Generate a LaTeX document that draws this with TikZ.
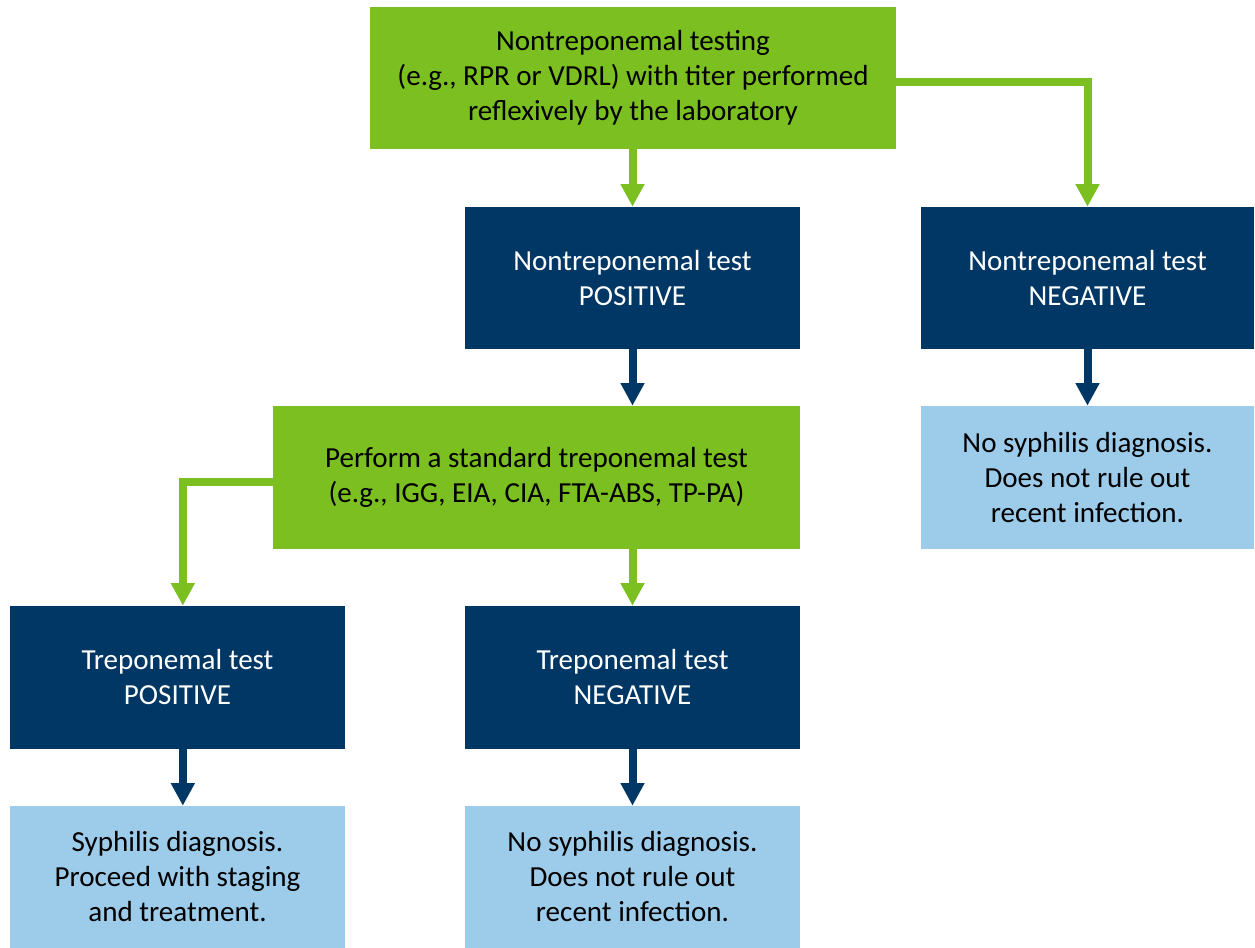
\documentclass[tikz,border=0pt]{standalone}
\usepackage{fontspec}
\setmainfont{Carlito}
\usetikzlibrary{arrows.meta}

\definecolor{testgreen}{HTML}{7BBF21}
\definecolor{navyblue}{HTML}{003764}
\definecolor{paleblue}{HTML}{9DCBEA}

\tikzset{
  box/.style={minimum width=335pt*0.75, minimum height=142pt*0.75, inner sep=0pt, align=center,
    font=\fontsize{21.8}{26.25}\selectfont},
  greenbox/.style={box, fill=testgreen, text=black},
  resultbox/.style={box, fill=navyblue, text=white},
  outcomebox/.style={box, fill=paleblue, text=black},
  flow/.style={line width=6pt, -{Triangle[length=17pt,width=17pt]}},
}

\begin{document}
\begin{tikzpicture}[x=0.75pt,y=-0.75pt]

\useasboundingbox (0,0) rectangle (1255,948);

% first test
\node[greenbox, minimum width=526pt*0.75] (nontrep) at (633,78)
  {Nontreponemal testing\\(e.g., RPR or VDRL) with titer performed\\reflexively by the laboratory};

% nontreponemal results
\node[resultbox] (ntpos) at (632.5,278) {Nontreponemal test\\POSITIVE};
\node[resultbox, minimum width=333pt*0.75] (ntneg) at (1087.5,278) {Nontreponemal test\\NEGATIVE};
\node[outcomebox, minimum width=333pt*0.75, minimum height=143pt*0.75] (nodxa) at (1087.5,477.5)
  {No syphilis diagnosis.\\Does not rule out\\recent infection.};

% second test
\node[greenbox, minimum width=527pt*0.75, minimum height=143pt*0.75] (trep) at (536.5,477.5)
  {Perform a standard treponemal test\\(e.g., IGG, EIA, CIA, FTA-ABS, TP-PA)};

% treponemal results
\node[resultbox, minimum height=143pt*0.75] (tpos) at (177.5,677.5) {Treponemal test\\POSITIVE};
\node[resultbox, minimum height=143pt*0.75] (tneg) at (632.5,677.5) {Treponemal test\\NEGATIVE};
\node[outcomebox] (syph) at (177.5,877) {Syphilis diagnosis.\\Proceed with staging\\and treatment.};
\node[outcomebox] (nodxb) at (632.5,877) {No syphilis diagnosis.\\Does not rule out\\recent infection.};

% connectors
\draw[flow, testgreen] (nontrep.south -| ntpos) -- (ntpos.north);
\draw[flow, testgreen] ([yshift=-3pt]nontrep.east) -| (ntneg.north);
\draw[flow, navyblue] (ntpos.south) -- (trep.north -| ntpos);
\draw[flow, navyblue] (ntneg.south) -- (nodxa.north);
\draw[flow, testgreen] ([yshift=-3pt]trep.west) -| ([xshift=4pt]tpos.north);
\draw[flow, testgreen] (trep.south -| tneg) -- (tneg.north);
\draw[flow, navyblue] ([xshift=4pt]tpos.south) -- ([xshift=4pt]syph.north);
\draw[flow, navyblue] (tneg.south) -- (nodxb.north);
\end{tikzpicture}
\end{document}
